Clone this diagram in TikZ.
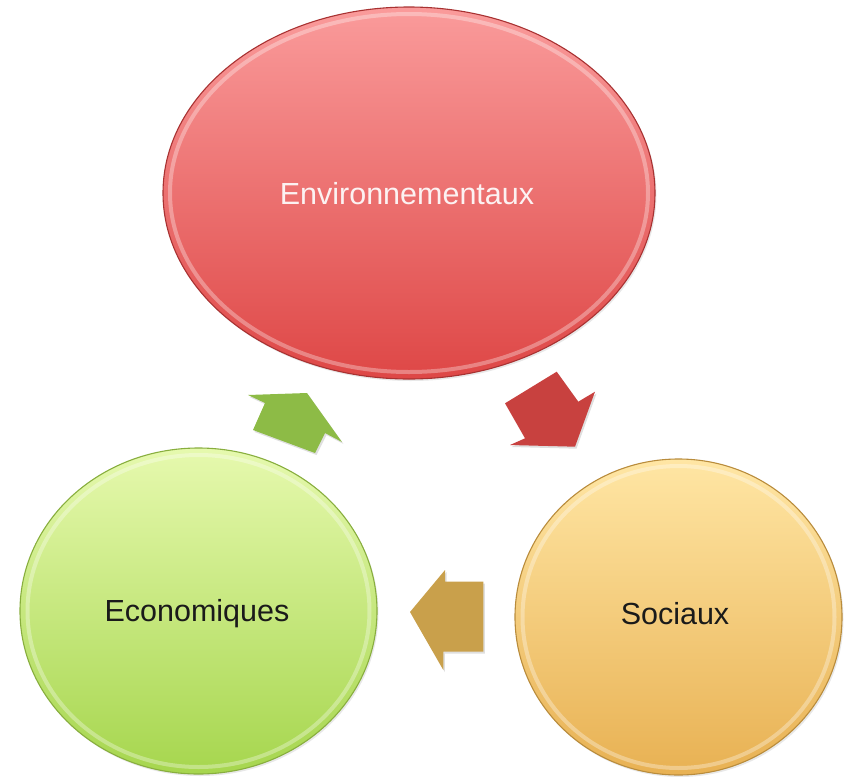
\documentclass[tikz,border=0pt]{standalone}
\usepackage{fontspec}
\setmainfont{Liberation Sans}
\usetikzlibrary{shapes.geometric,shadows}
\definecolor{redtop}{HTML}{FA9B9B}
\definecolor{redbot}{HTML}{DE4746}
\definecolor{redrim}{HTML}{A83232}
\definecolor{greentop}{HTML}{E6F9AE}
\definecolor{greenbot}{HTML}{A6D64E}
\definecolor{greenrim}{HTML}{88AE3E}
\definecolor{tantop}{HTML}{FFE6A4}
\definecolor{tanbot}{HTML}{E8B153}
\definecolor{tanrim}{HTML}{B98C3C}
\definecolor{arrgreen}{HTML}{8DBB46}
\definecolor{arrred}{HTML}{C8413F}
\definecolor{arrtan}{HTML}{C9A04B}
\definecolor{txtdark}{HTML}{1A1A1A}
\definecolor{txtlight}{HTML}{FCF2F2}
\begin{document}
\begin{tikzpicture}[x=1pt,y=-1pt,
  bubble/.style={ellipse, inner sep=0pt, line width=1.1pt,
    drop shadow={opacity=0.18, shadow xshift=1.5pt, shadow yshift=-2pt}},
  ring/.style={white, opacity=0.32, line width=4pt},
  lbl/.style={anchor=base, inner sep=0pt, font=\fontsize{30.5}{36}\selectfont},
  blockarrow/.style={drop shadow={opacity=0.25, shadow xshift=1.5pt, shadow yshift=-2pt}}
]
\useasboundingbox (0,0) rectangle (847,777);

% circles
\node[bubble, minimum width=492pt, minimum height=372pt,
      top color=redtop, bottom color=redbot, draw=redrim] (env) at (409,193) {};
\draw[ring] (env.center) ellipse (239pt and 179pt);

\node[bubble, minimum width=357pt, minimum height=326pt,
      top color=greentop, bottom color=greenbot, draw=greenrim] (eco) at (198.5,611) {};
\draw[ring] (eco.center) ellipse (171pt and 156pt);

\node[bubble, minimum width=327pt, minimum height=316pt,
      top color=tantop, bottom color=tanbot, draw=tanrim] (soc) at (678.5,617) {};
\draw[ring] (soc.center) ellipse (156pt and 151pt);

% labels
\node[lbl, text=txtlight] (envtext) at (407,204) {Environnementaux};
\node[lbl, text=txtdark] (ecotext) at (197,621.7) {Economiques};
\node[lbl, text=txtdark] (soctext) at (675,624) {Sociaux};

% block arrows
\fill[arrgreen, blockarrow] (248,395) -- (307,393) -- (342,442) -- (325,433)
   -- (315,453) -- (253,430) -- (265,403) -- cycle;
\fill[arrred, blockarrow] (505,403.3) -- (556.7,371.7) -- (578.3,401.7) -- (595,391.7)
   -- (575,446.7) -- (510,445) -- (525,438.3) -- cycle;
\fill[arrtan, blockarrow] (410,612) -- (445,570) -- (445,581.7) -- (483.3,581.7)
   -- (483.3,651.7) -- (443.3,651.7) -- (443.3,670) -- cycle;
\end{tikzpicture}
\end{document}
